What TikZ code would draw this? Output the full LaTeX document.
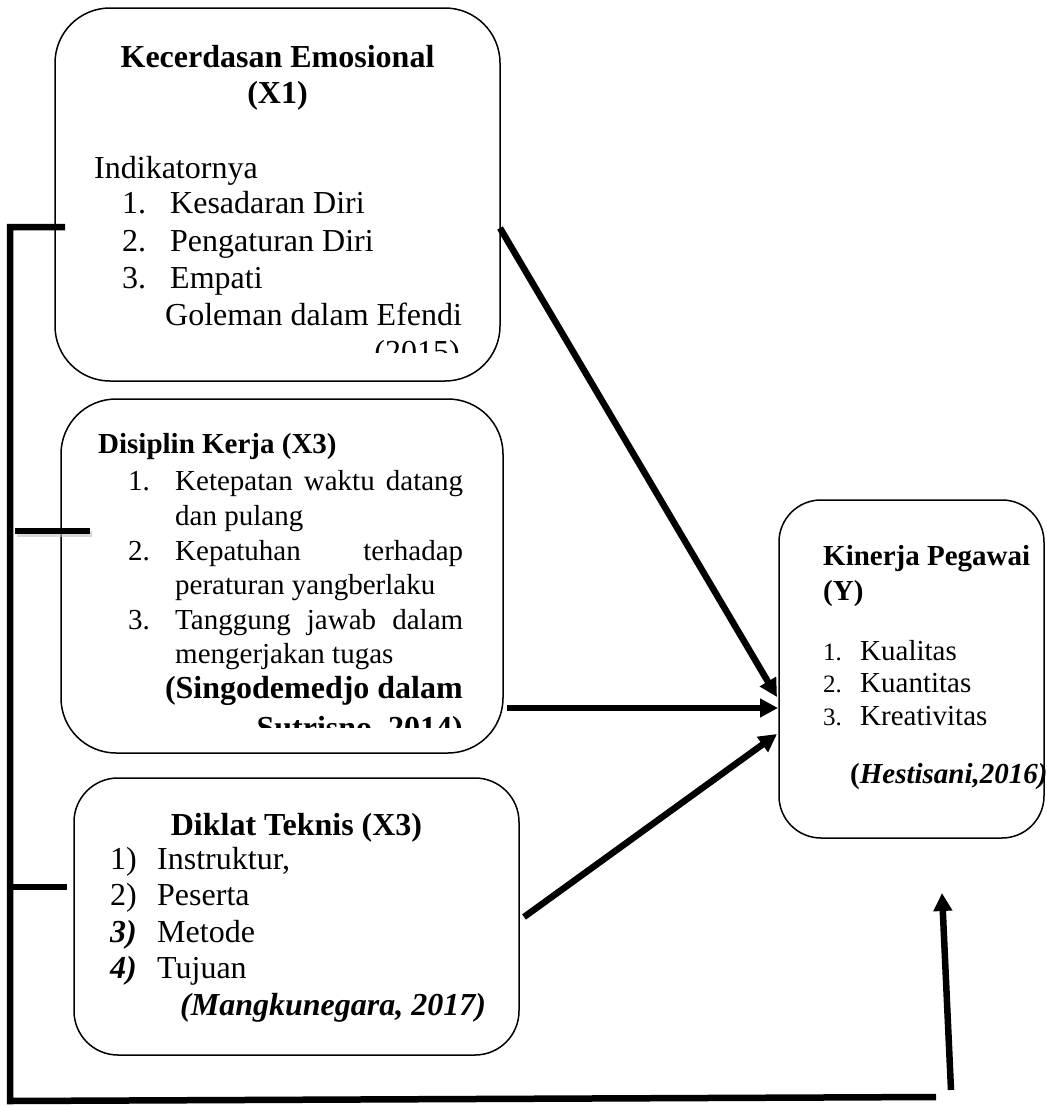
\documentclass[tikz,border=0pt]{standalone}
\usepackage{fontspec}
\setmainfont{Liberation Serif}
\usetikzlibrary{arrows.meta}
\begin{document}
\begin{tikzpicture}[x=1pt,y=-1pt,
  box/.style={draw, line width=1.5pt, rounded corners=#1, inner sep=0pt},
  conn/.style={line width=6.5pt},
  arr/.style={conn, -{Triangle[length=18pt,width=18pt]}},
  tA/.style={anchor=base west, inner sep=0pt, font=\fontsize{32}{38}\selectfont},
  tB/.style={anchor=base west, inner sep=0pt, font=\fontsize{29}{34}\selectfont},
  tN/.style={anchor=base west, inner sep=0pt, font=\fontsize{25}{30}\selectfont},
]
\fill[white] (0,0) rectangle (1047,1106);
\useasboundingbox (0,0) rectangle (1047,1106);

% boxes
\node[box=55pt, minimum width=445pt, minimum height=373pt] (k1) at (277.5,194.5) {};
\node[box=55pt, minimum width=442pt, minimum height=354pt] (k2) at (282,576) {};
\node[box=44pt, minimum width=445pt, minimum height=277pt] (k3) at (296.5,916.5) {};
\node[box=42pt, minimum width=265pt, minimum height=338pt] (ky) at (911.5,669) {};

% box 1 text
\node[tA, anchor=base] (k1t1) at (277.5,67) {\bfseries Kecerdasan Emosional};
\node[tA, anchor=base] (k1t2) at (277.5,103) {\bfseries (X1)};
\node[tA] (k1i) at (94,178) {Indikatornya};
\node[tA] (k1n1) at (122,213) {1.};
\node[tA] (k1a) at (170,213) {Kesadaran Diri};
\node[tA] (k1n2) at (122,251) {2.};
\node[tA] (k1b) at (170,251) {Pengaturan Diri};
\node[tA] (k1n3) at (122,288) {3.};
\node[tA] (k1c) at (170,288) {Empati};
\node[tA] (k1r) at (165,325) {Goleman dalam Efendi};
\begin{scope}
\clip (300,330) rectangle (480,352);
\node[tA, anchor=base east] (k1r2) at (460,362) {(2015)};
\end{scope}

% box 2 text
\node[tB] (k2t) at (98,453) {\bfseries Disiplin Kerja (X3)};
\node[tB] (k2n1) at (128,490) {1.};
\node[tB] (k2a1) at (175,490) {\makebox[288pt][s]{Ketepatan waktu datang}};
\node[tB] (k2a2) at (175,525) {dan pulang};
\node[tB] (k2n2) at (128,560) {2.};
\node[tB] (k2b1) at (175,560) {\makebox[288pt][s]{Kepatuhan terhadap}};
\node[tB] (k2b2) at (175,594) {peraturan yangberlaku};
\node[tB] (k2n3) at (128,629) {3.};
\node[tB] (k2c1) at (175,629) {\makebox[288pt][s]{Tanggung jawab dalam}};
\node[tB] (k2c2) at (175,663) {mengerjakan tugas};
\node[tA, anchor=base east] (k2r1) at (463,698) {\bfseries (Singodemedjo dalam};
\begin{scope}
\clip (200,705) rectangle (480,727);
\node[tA, anchor=base east] (k2r2) at (463,738) {\bfseries Sutrisno, 2014)};
\end{scope}

% box 3 text
\node[tA, anchor=base] (k3t) at (296.5,835) {\bfseries Diklat Teknis (X3)};
\node[tA] (k3n1) at (110,869) {1)};
\node[tA] (k3a) at (157,869) {Instruktur,};
\node[tA] (k3n2) at (110,905) {2)};
\node[tA] (k3b) at (157,905) {Peserta};
\node[tA] (k3n3) at (110,942) {\bfseries\itshape 3)};
\node[tA] (k3c) at (157,942) {Metode};
\node[tA] (k3n4) at (110,978) {\bfseries\itshape 4)};
\node[tA] (k3d) at (157,978) {Tujuan};
\node[tA] (k3r) at (180,1015) {\bfseries\itshape (Mangkunegara, 2017)};

% box Y text
\node[tB] (kyt1) at (823,565) {\bfseries Kinerja Pegawai};
\node[tB] (kyt2) at (823,600) {\bfseries (Y)};
\node[tN] (kyn1) at (823,660) {1.};
\node[tB] (kya) at (860,660) {Kualitas};
\node[tN] (kyn2) at (823,692) {2.};
\node[tB] (kyb) at (860,692) {Kuantitas};
\node[tN] (kyn3) at (823,725) {3.};
\node[tB] (kyc) at (860,725) {Kreativitas};
\node[tB] (kyr) at (850,783) {\bfseries(\itshape Hestisani,2016)};

% connector end points
\coordinate (a1s) at (500,228);
\coordinate (a1e) at (777,697);
\coordinate (a2s) at (507,708);
\coordinate (a2e) at (778,708);
\coordinate (a3s) at (524,917);
\coordinate (a3e) at (777,734);
\coordinate (a4s) at (951,1090);
\coordinate (a4e) at (942,893);

\draw[arr] (a1s) -- (a1e);
\draw[arr] (a2s) -- (a2e);
\draw[arr] (a3s) -- (a3e);
\draw[arr] (a4s) -- (a4e);

% left bracket
\coordinate (b1) at (65,227);
\coordinate (b2) at (10,227);
\coordinate (b3) at (10,1101);
\coordinate (b4) at (936,1097);
\draw[conn] (b1) -- (b2) -- (b3) -- (b4);
\coordinate (s2a) at (15,531);
\coordinate (s2b) at (90,531);
\draw[line width=6.5pt, black!25, opacity=0.6] ([shift={(2,3)}]s2a) -- ([shift={(2,3)}]s2b);
\draw[conn] (s2a) -- (s2b);
\coordinate (s3a) at (10,887);
\coordinate (s3b) at (67,887);
\draw[conn] (s3a) -- (s3b);
\end{tikzpicture}
\end{document}
